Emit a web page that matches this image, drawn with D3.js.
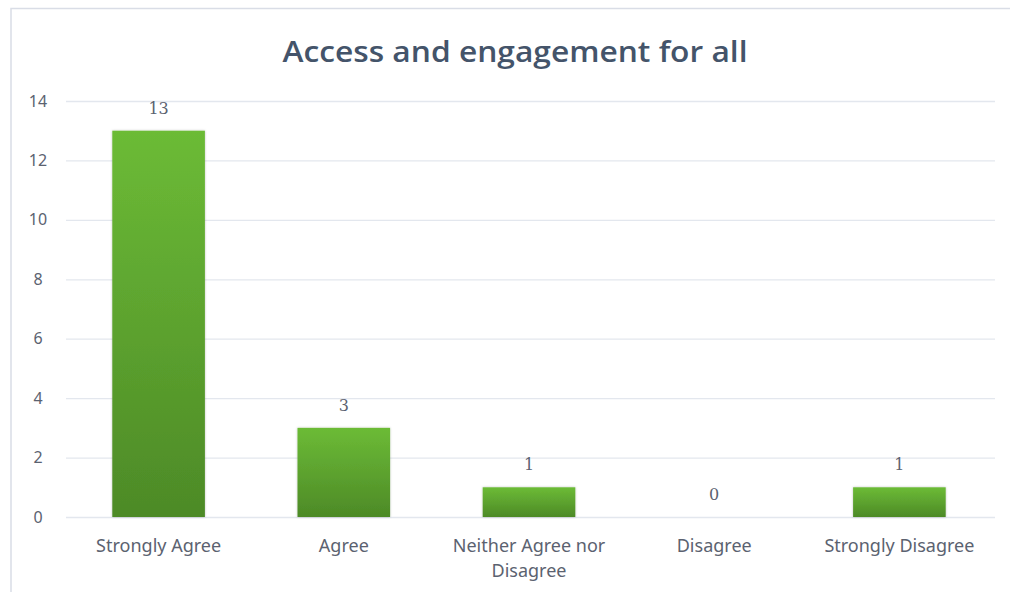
<!DOCTYPE html>
<html>
<head>
<meta charset="utf-8">
<script src="https://cdn.jsdelivr.net/npm/d3@7"></script>
<style>
  html, body { margin: 0; padding: 0; background: #fff; }
  svg { display: block; }
</style>
</head>
<body>
<svg id="chart" width="1010" height="592"></svg>
<script>
const categories = ["Strongly Agree", "Agree", "Neither Agree nor Disagree", "Disagree", "Strongly Disagree"];
const responses = [13, 3, 1, 0, 1];
const yTicks = [0, 2, 4, 6, 8, 10, 12, 14];
const chartTitle = "Access and engagement for all";

const svg = d3.select("#chart");
const plot = { left: 66, right: 992, top: 101, bottom: 517 };

// chart frame
svg.append("rect")
  .attr("x", 11).attr("y", 8.5)
  .attr("width", 1010).attr("height", 600)
  .attr("fill", "#fff").attr("stroke", "#d9dde6").attr("stroke-width", 1.5);

const defs = svg.append("defs");
const grad = defs.append("linearGradient")
  .attr("id", "barFill").attr("x1", 0).attr("y1", 0).attr("x2", 0).attr("y2", 1);
grad.append("stop").attr("offset", "0%").attr("stop-color", "#6cbb36");
grad.append("stop").attr("offset", "100%").attr("stop-color", "#4d8a27");
const shadow = defs.append("filter").attr("id", "barShadow")
  .attr("x", "-10%").attr("y", "-10%").attr("width", "120%").attr("height", "120%");
shadow.append("feDropShadow").attr("dx", 0).attr("dy", 0).attr("stdDeviation", 1.2)
  .attr("flood-color", "#000").attr("flood-opacity", 0.25);

const x = d3.scaleBand().domain(categories).range([plot.left, plot.right]).paddingInner(0.5).paddingOuter(0.25);
const y = d3.scaleLinear().domain([0, 14]).range([plot.bottom, plot.top]);

// title
svg.append("text")
  .attr("x", 515).attr("y", 62)
  .attr("text-anchor", "middle")
  .attr("font-family", "'Open Sans', sans-serif")
  .attr("font-weight", 600)
  .attr("font-size", 28)
  .attr("fill", "#44546a")
  .attr("textLength", 465).attr("lengthAdjust", "spacingAndGlyphs")
  .text(chartTitle);

// gridlines and y axis labels
const yAxis = d3.axisLeft(y).tickValues(yTicks).tickSize(-(plot.right + 3 - plot.left)).tickPadding(22);
const yg = svg.append("g").attr("transform", `translate(${plot.left},0)`).call(yAxis);
yg.select(".domain").remove();
yg.selectAll(".tick line").attr("stroke", "#e3e7ee").attr("stroke-width", 1.3);
yg.selectAll(".tick text")
  .attr("fill", "#5b6270")
  .attr("font-family", "'Noto Sans', sans-serif")
  .attr("font-size", 16)
  .attr("text-anchor", "middle")
  .attr("x", -28);

// bars
const rows = categories.map((c, i) => ({ c, v: responses[i] }));
svg.append("g").selectAll("rect")
  .data(rows.filter(d => d.v > 0))
  .join("rect")
  .attr("x", d => x(d.c))
  .attr("y", d => y(d.v))
  .attr("width", x.bandwidth())
  .attr("height", d => y(0) - y(d.v))
  .attr("fill", "url(#barFill)")
  .attr("filter", "url(#barShadow)");

// value labels
svg.append("g").selectAll("text")
  .data(rows)
  .join("text")
  .attr("x", d => x(d.c) + x.bandwidth() / 2)
  .attr("y", d => y(d.v) - 17)
  .attr("text-anchor", "middle")
  .attr("font-family", "'DejaVu Serif', serif")
  .attr("font-size", 16)
  .attr("fill", "#5b6270")
  .text(d => d.v);

// category labels (wrapped)
const xAxis = d3.axisBottom(x).tickSize(0).tickPadding(0);
const xg = svg.append("g").attr("transform", `translate(0,${plot.bottom})`).call(xAxis);
xg.select(".domain").remove();
xg.selectAll(".tick text").each(function (d) {
  const t = d3.select(this);
  t.text(null)
    .attr("y", 0)
    .attr("dy", null)
    .attr("fill", "#5b6270")
    .attr("font-family", "'Noto Sans', sans-serif")
    .attr("font-size", 18);
  const lines = d === "Neither Agree nor Disagree" ? ["Neither Agree nor", "Disagree"] : [d];
  lines.forEach((ln, i) => {
    t.append("tspan").attr("x", 0).attr("y", 35 + i * 25).text(ln);
  });
});
</script>
</body>
</html>
